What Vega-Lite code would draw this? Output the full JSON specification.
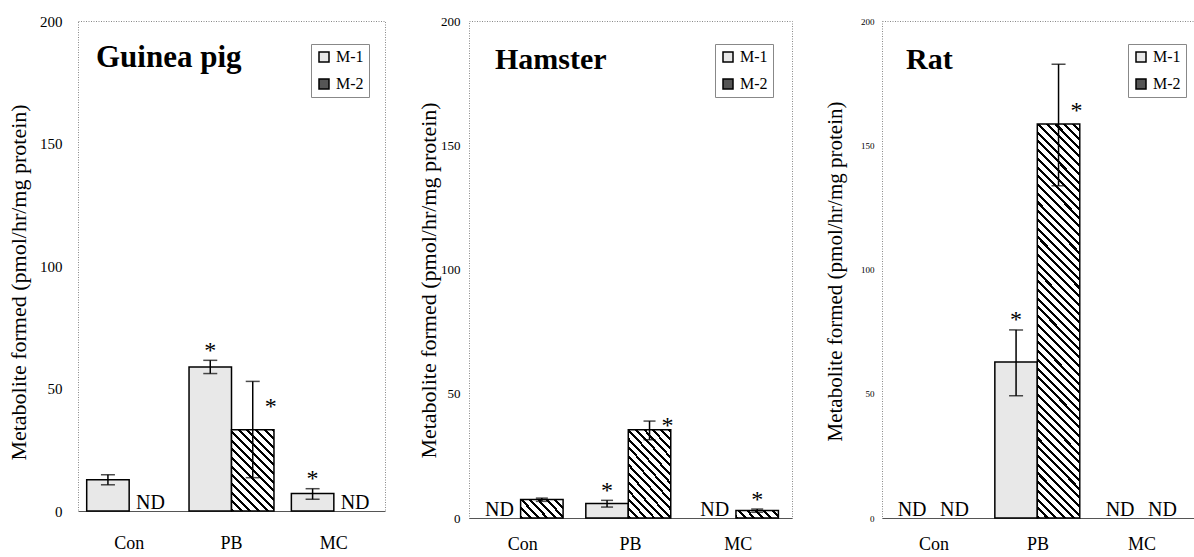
{
"$schema": "https://vega.github.io/schema/vega-lite/v6.json",
"background": "#ffffff",
"padding": {"left": 7, "top": 13, "right": 0, "bottom": 0},
"spacing": 31,
"datasets": {"d": [
{"species":"Guinea pig","treatment":"Con","metabolite":"M-1","value":12.8,"lo":10.7,"hi":14.8,"sig":"","nd":""},
{"species":"Guinea pig","treatment":"Con","metabolite":"M-2","value":null,"lo":null,"hi":null,"sig":"","nd":"ND"},
{"species":"Guinea pig","treatment":"PB","metabolite":"M-1","value":58.8,"lo":56.1,"hi":61.5,"sig":"*","nd":""},
{"species":"Guinea pig","treatment":"PB","metabolite":"M-2","value":33.2,"lo":13.6,"hi":52.9,"sig":"*","nd":""},
{"species":"Guinea pig","treatment":"MC","metabolite":"M-1","value":7.1,"lo":4.8,"hi":9.1,"sig":"*","nd":""},
{"species":"Guinea pig","treatment":"MC","metabolite":"M-2","value":null,"lo":null,"hi":null,"sig":"","nd":"ND"},
{"species":"Hamster","treatment":"Con","metabolite":"M-1","value":null,"lo":null,"hi":null,"sig":"","nd":"ND"},
{"species":"Hamster","treatment":"Con","metabolite":"M-2","value":7.4,"lo":6.7,"hi":8.0,"sig":"","nd":""},
{"species":"Hamster","treatment":"PB","metabolite":"M-1","value":5.8,"lo":4.4,"hi":7.1,"sig":"*","nd":""},
{"species":"Hamster","treatment":"PB","metabolite":"M-2","value":35.5,"lo":31.5,"hi":39.0,"sig":"*","nd":""},
{"species":"Hamster","treatment":"MC","metabolite":"M-1","value":null,"lo":null,"hi":null,"sig":"","nd":"ND"},
{"species":"Hamster","treatment":"MC","metabolite":"M-2","value":3.0,"lo":2.3,"hi":3.6,"sig":"*","nd":""},
{"species":"Rat","treatment":"Con","metabolite":"M-1","value":null,"lo":null,"hi":null,"sig":"","nd":"ND"},
{"species":"Rat","treatment":"Con","metabolite":"M-2","value":null,"lo":null,"hi":null,"sig":"","nd":"ND"},
{"species":"Rat","treatment":"PB","metabolite":"M-1","value":62.8,"lo":49.2,"hi":75.7,"sig":"*","nd":""},
{"species":"Rat","treatment":"PB","metabolite":"M-2","value":158.6,"lo":133.7,"hi":182.6,"sig":"*","nd":""},
{"species":"Rat","treatment":"MC","metabolite":"M-1","value":null,"lo":null,"hi":null,"sig":"","nd":"ND"},
{"species":"Rat","treatment":"MC","metabolite":"M-2","value":null,"lo":null,"hi":null,"sig":"","nd":"ND"}
]},
"data": {"name": "d"},
"resolve": {"scale": {"fill": "independent", "x": "independent", "y": "independent"}, "legend": {"fill": "independent"}},
"config": {"view": {"stroke": "#888888", "strokeDash": [1, 1.5], "strokeWidth": 1}, "font": "Liberation Serif"},
"hconcat": [
{
"width": 307, "height": 490,
"transform": [{"filter": "datum.species === 'Guinea pig'"}],
"title": {"text": "Guinea pig", "anchor": "start", "frame": "group", "orient": "top", "offset": -84, "dx": 18, "font": "Liberation Serif", "fontSize": 31, "fontWeight": "bold", "baseline": "alphabetic", "color": "#000000"},
"encoding": {
"x": {"field": "treatment", "type": "nominal", "title": null, "scale": {"domain": ["Con", "PB", "MC"], "paddingInner": 0.17, "paddingOuter": 0.085}, "axis": {"labelFont": "Liberation Serif", "labelFontSize": 18, "labelColor": "#000000", "labelAngle": 0, "ticks": false, "tickSize": 0, "labelPadding": 23, "domainColor": "#555555", "domainWidth": 1}},
"xOffset": {"field": "metabolite", "type": "nominal", "scale": {"domain": ["M-1", "M-2"], "paddingInner": 0, "paddingOuter": 0}}
},
"layer": [
{"mark": {"type": "bar", "stroke": "#000000", "strokeWidth": 1.5},
 "encoding": {
  "y": {"field": "value", "type": "quantitative", "title": "Metabolite formed (pmol/hr/mg protein)", "scale": {"domain": [0, 200]}, "axis": {"values": [0, 50, 100, 150, 200], "domain": false, "ticks": false, "tickSize": 0, "grid": false, "labelFont": "Liberation Serif", "labelFontSize": 15, "labelColor": "#000000", "labelPadding": 16, "titleFont": "Liberation Serif", "titleFontSize": 22, "titleFontWeight": "normal", "titleColor": "#000000", "titlePadding": 9, "titleY": 261}},
  "fill": {"field": "metabolite", "type": "nominal", "scale": {"domain": ["M-1", "M-2"], "range": ["#e8e8e8", "#555555"]},
   "condition": [{"test": "datum.treatment === 'PB' && datum.metabolite === 'M-2'", "value": {"gradient": "linear", "x1": 0, "y1": 1, "x2": 0.625, "y2": -0.196, "stops": [
{"offset":0,"color":"#000"},{"offset":0.025,"color":"#000"},{"offset":0.025,"color":"#fff"},{"offset":0.07,"color":"#fff"},
{"offset":0.07,"color":"#000"},{"offset":0.095,"color":"#000"},{"offset":0.095,"color":"#fff"},{"offset":0.14,"color":"#fff"},
{"offset":0.14,"color":"#000"},{"offset":0.165,"color":"#000"},{"offset":0.165,"color":"#fff"},{"offset":0.21,"color":"#fff"},
{"offset":0.21,"color":"#000"},{"offset":0.235,"color":"#000"},{"offset":0.235,"color":"#fff"},{"offset":0.28,"color":"#fff"},
{"offset":0.28,"color":"#000"},{"offset":0.305,"color":"#000"},{"offset":0.305,"color":"#fff"},{"offset":0.35,"color":"#fff"},
{"offset":0.35,"color":"#000"},{"offset":0.375,"color":"#000"},{"offset":0.375,"color":"#fff"},{"offset":0.42,"color":"#fff"},
{"offset":0.42,"color":"#000"},{"offset":0.445,"color":"#000"},{"offset":0.445,"color":"#fff"},{"offset":0.49,"color":"#fff"},
{"offset":0.49,"color":"#000"},{"offset":0.515,"color":"#000"},{"offset":0.515,"color":"#fff"},{"offset":0.56,"color":"#fff"},
{"offset":0.56,"color":"#000"},{"offset":0.585,"color":"#000"},{"offset":0.585,"color":"#fff"},{"offset":0.63,"color":"#fff"},
{"offset":0.63,"color":"#000"},{"offset":0.655,"color":"#000"},{"offset":0.655,"color":"#fff"},{"offset":0.7,"color":"#fff"},
{"offset":0.7,"color":"#000"},{"offset":0.725,"color":"#000"},{"offset":0.725,"color":"#fff"},{"offset":0.77,"color":"#fff"},
{"offset":0.77,"color":"#000"},{"offset":0.795,"color":"#000"},{"offset":0.795,"color":"#fff"},{"offset":0.84,"color":"#fff"},
{"offset":0.84,"color":"#000"},{"offset":0.865,"color":"#000"},{"offset":0.865,"color":"#fff"},{"offset":0.91,"color":"#fff"},
{"offset":0.91,"color":"#000"},{"offset":0.935,"color":"#000"},{"offset":0.935,"color":"#fff"},{"offset":0.98,"color":"#fff"},
{"offset":0.98,"color":"#000"},{"offset":1,"color":"#000"}
]}}],
   "legend": {"orient": "none", "legendX": 233, "legendY": 23, "title": null, "symbolType": "square", "symbolSize": 100, "labelFont": "Liberation Serif", "labelFontSize": 16, "labelColor": "#000000", "labelOffset": 4, "padding": 5, "rowPadding": 11, "strokeColor": "#888888",
    "encode": {"legend": {"strokeDash": {"value": [1, 2]}}, "symbols": {"stroke": {"value": "#000000"}, "strokeWidth": {"value": 1.5}, "fill": {"condition": {"test": "datum.value === 'M-2'", "value": {"gradient": "linear", "x1": 0, "y1": 1, "x2": 1, "y2": 0, "stops": [{"offset":0,"color":"#000"},{"offset":0.15,"color":"#000"},{"offset":0.15,"color":"#fff"},{"offset":0.42,"color":"#fff"},{"offset":0.42,"color":"#000"},{"offset":0.58,"color":"#000"},{"offset":0.58,"color":"#fff"},{"offset":0.85,"color":"#fff"},{"offset":0.85,"color":"#000"},{"offset":1,"color":"#000"}]}}, "value": "#f0f0f0"}}}}
  }
 }},
{"mark": {"type": "rule", "color": "#000000", "strokeWidth": 1.5},
 "encoding": {"y": {"field": "lo", "type": "quantitative", "title": "Metabolite formed (pmol/hr/mg protein)", "scale": {"domain": [0, 200]}}, "y2": {"field": "hi"}}},
{"mark": {"type": "tick", "color": "#000000", "thickness": 1.5, "size": 14},
 "encoding": {"y": {"field": "lo", "type": "quantitative", "title": "Metabolite formed (pmol/hr/mg protein)", "scale": {"domain": [0, 200]}}}},
{"mark": {"type": "tick", "color": "#000000", "thickness": 1.5, "size": 14},
 "encoding": {"y": {"field": "hi", "type": "quantitative", "title": "Metabolite formed (pmol/hr/mg protein)", "scale": {"domain": [0, 200]}}}},
{"transform": [{"filter": "datum.sig === '*' && !(datum.treatment === 'PB' && datum.metabolite === 'M-2')"}],
 "mark": {"type": "text", "font": "Liberation Serif", "fontSize": 24, "baseline": "alphabetic", "dy": -2.5, "color": "#000000"},
 "encoding": {"y": {"field": "hi", "type": "quantitative", "title": "Metabolite formed (pmol/hr/mg protein)", "scale": {"domain": [0, 200]}}, "text": {"field": "sig"}}},
{"transform": [{"filter": "datum.sig === '*' && datum.treatment === 'PB' && datum.metabolite === 'M-2'"}],
 "mark": {"type": "text", "font": "Liberation Serif", "fontSize": 24, "baseline": "alphabetic", "dx": 18, "dy": -16, "color": "#000000"},
 "encoding": {"y": {"field": "value", "type": "quantitative", "title": "Metabolite formed (pmol/hr/mg protein)", "scale": {"domain": [0, 200]}}, "text": {"field": "sig"}}},
{"transform": [{"filter": "datum.nd === 'ND'"}],
 "mark": {"type": "text", "font": "Liberation Serif", "fontSize": 20, "baseline": "alphabetic", "dy": -2, "color": "#000000"},
 "encoding": {"y": {"datum": 0, "type": "quantitative", "title": "Metabolite formed (pmol/hr/mg protein)", "scale": {"domain": [0, 200]}}, "text": {"field": "nd"}}}
]
},
{
"width": 323, "height": 497,
"transform": [{"filter": "datum.species === 'Hamster'"}],
"title": {"text": "Hamster", "anchor": "start", "frame": "group", "orient": "top", "offset": -84, "dx": 26, "font": "Liberation Serif", "fontSize": 30, "fontWeight": "bold", "baseline": "alphabetic", "color": "#000000"},
"encoding": {
"x": {"field": "treatment", "type": "nominal", "title": null, "scale": {"domain": ["Con", "PB", "MC"], "paddingInner": 0.17, "paddingOuter": 0.085}, "axis": {"labelFont": "Liberation Serif", "labelFontSize": 18, "labelColor": "#000000", "labelAngle": 0, "ticks": false, "tickSize": 0, "labelPadding": 17, "domainColor": "#555555", "domainWidth": 1}},
"xOffset": {"field": "metabolite", "type": "nominal", "scale": {"domain": ["M-1", "M-2"], "paddingInner": 0, "paddingOuter": 0}}
},
"layer": [
{"mark": {"type": "bar", "stroke": "#000000", "strokeWidth": 1.5},
 "encoding": {
  "y": {"field": "value", "type": "quantitative", "title": "Metabolite formed (pmol/hr/mg protein)", "scale": {"domain": [0, 200]}, "axis": {"values": [0, 50, 100, 150, 200], "domain": false, "ticks": false, "tickSize": 0, "grid": false, "labelFont": "Liberation Serif", "labelFontSize": 13, "labelColor": "#000000", "labelPadding": 9, "titleFont": "Liberation Serif", "titleFontSize": 22, "titleFontWeight": "normal", "titleColor": "#000000", "titlePadding": 0, "titleY": 259}},
  "fill": {"field": "metabolite", "type": "nominal", "scale": {"domain": ["M-1", "M-2"], "range": ["#e8e8e8", "#555555"]},
   "condition": [
{"test": "datum.treatment === 'Con' && datum.metabolite === 'M-2'", "value": {"gradient": "linear", "x1": 0, "y1": 1, "x2": 1.207, "y2": 0.503, "stops": [
{"offset":0,"color":"#000"},{"offset":0.05,"color":"#000"},{"offset":0.05,"color":"#fff"},{"offset":0.14,"color":"#fff"},
{"offset":0.14,"color":"#000"},{"offset":0.19,"color":"#000"},{"offset":0.19,"color":"#fff"},{"offset":0.28,"color":"#fff"},
{"offset":0.28,"color":"#000"},{"offset":0.33,"color":"#000"},{"offset":0.33,"color":"#fff"},{"offset":0.42,"color":"#fff"},
{"offset":0.42,"color":"#000"},{"offset":0.47,"color":"#000"},{"offset":0.47,"color":"#fff"},{"offset":0.56,"color":"#fff"},
{"offset":0.56,"color":"#000"},{"offset":0.61,"color":"#000"},{"offset":0.61,"color":"#fff"},{"offset":0.7,"color":"#fff"},
{"offset":0.7,"color":"#000"},{"offset":0.75,"color":"#000"},{"offset":0.75,"color":"#fff"},{"offset":0.84,"color":"#fff"},
{"offset":0.84,"color":"#000"},{"offset":0.89,"color":"#000"},{"offset":0.89,"color":"#fff"},{"offset":0.98,"color":"#fff"},
{"offset":0.98,"color":"#000"},{"offset":1,"color":"#000"}
]}},
{"test": "datum.treatment === 'PB' && datum.metabolite === 'M-2'", "value": {"gradient": "linear", "x1": 0, "y1": 1, "x2": 0.607, "y2": -0.199, "stops": [
{"offset":0,"color":"#000"},{"offset":0.023,"color":"#000"},{"offset":0.023,"color":"#fff"},{"offset":0.065,"color":"#fff"},
{"offset":0.065,"color":"#000"},{"offset":0.088,"color":"#000"},{"offset":0.088,"color":"#fff"},{"offset":0.13,"color":"#fff"},
{"offset":0.13,"color":"#000"},{"offset":0.153,"color":"#000"},{"offset":0.153,"color":"#fff"},{"offset":0.195,"color":"#fff"},
{"offset":0.195,"color":"#000"},{"offset":0.218,"color":"#000"},{"offset":0.218,"color":"#fff"},{"offset":0.26,"color":"#fff"},
{"offset":0.26,"color":"#000"},{"offset":0.283,"color":"#000"},{"offset":0.283,"color":"#fff"},{"offset":0.325,"color":"#fff"},
{"offset":0.325,"color":"#000"},{"offset":0.348,"color":"#000"},{"offset":0.348,"color":"#fff"},{"offset":0.39,"color":"#fff"},
{"offset":0.39,"color":"#000"},{"offset":0.413,"color":"#000"},{"offset":0.413,"color":"#fff"},{"offset":0.455,"color":"#fff"},
{"offset":0.455,"color":"#000"},{"offset":0.478,"color":"#000"},{"offset":0.478,"color":"#fff"},{"offset":0.52,"color":"#fff"},
{"offset":0.52,"color":"#000"},{"offset":0.543,"color":"#000"},{"offset":0.543,"color":"#fff"},{"offset":0.585,"color":"#fff"},
{"offset":0.585,"color":"#000"},{"offset":0.608,"color":"#000"},{"offset":0.608,"color":"#fff"},{"offset":0.65,"color":"#fff"},
{"offset":0.65,"color":"#000"},{"offset":0.673,"color":"#000"},{"offset":0.673,"color":"#fff"},{"offset":0.715,"color":"#fff"},
{"offset":0.715,"color":"#000"},{"offset":0.738,"color":"#000"},{"offset":0.738,"color":"#fff"},{"offset":0.78,"color":"#fff"},
{"offset":0.78,"color":"#000"},{"offset":0.803,"color":"#000"},{"offset":0.803,"color":"#fff"},{"offset":0.845,"color":"#fff"},
{"offset":0.845,"color":"#000"},{"offset":0.868,"color":"#000"},{"offset":0.868,"color":"#fff"},{"offset":0.91,"color":"#fff"},
{"offset":0.91,"color":"#000"},{"offset":0.933,"color":"#000"},{"offset":0.933,"color":"#fff"},{"offset":0.975,"color":"#fff"},
{"offset":0.975,"color":"#000"},{"offset":0.998,"color":"#000"},{"offset":0.998,"color":"#fff"},{"offset":1,"color":"#fff"}
]}},
{"test": "datum.treatment === 'MC' && datum.metabolite === 'M-2'", "value": {"gradient": "linear", "x1": 0, "y1": 1, "x2": 1.135, "y2": 0.81, "stops": [
{"offset":0,"color":"#000"},{"offset":0.06,"color":"#000"},{"offset":0.06,"color":"#fff"},{"offset":0.17,"color":"#fff"},
{"offset":0.17,"color":"#000"},{"offset":0.23,"color":"#000"},{"offset":0.23,"color":"#fff"},{"offset":0.34,"color":"#fff"},
{"offset":0.34,"color":"#000"},{"offset":0.4,"color":"#000"},{"offset":0.4,"color":"#fff"},{"offset":0.51,"color":"#fff"},
{"offset":0.51,"color":"#000"},{"offset":0.57,"color":"#000"},{"offset":0.57,"color":"#fff"},{"offset":0.68,"color":"#fff"},
{"offset":0.68,"color":"#000"},{"offset":0.74,"color":"#000"},{"offset":0.74,"color":"#fff"},{"offset":0.85,"color":"#fff"},
{"offset":0.85,"color":"#000"},{"offset":0.91,"color":"#000"},{"offset":0.91,"color":"#fff"},{"offset":1,"color":"#fff"}
]}}
],
   "legend": {"orient": "none", "legendX": 246, "legendY": 23, "title": null, "symbolType": "square", "symbolSize": 100, "labelFont": "Liberation Serif", "labelFontSize": 16, "labelColor": "#000000", "labelOffset": 4, "padding": 5, "rowPadding": 11, "strokeColor": "#888888",
    "encode": {"legend": {"strokeDash": {"value": [1, 2]}}, "symbols": {"stroke": {"value": "#000000"}, "strokeWidth": {"value": 1.5}, "fill": {"condition": {"test": "datum.value === 'M-2'", "value": {"gradient": "linear", "x1": 0, "y1": 1, "x2": 1, "y2": 0, "stops": [{"offset":0,"color":"#000"},{"offset":0.15,"color":"#000"},{"offset":0.15,"color":"#fff"},{"offset":0.42,"color":"#fff"},{"offset":0.42,"color":"#000"},{"offset":0.58,"color":"#000"},{"offset":0.58,"color":"#fff"},{"offset":0.85,"color":"#fff"},{"offset":0.85,"color":"#000"},{"offset":1,"color":"#000"}]}}, "value": "#f0f0f0"}}}}
  }
 }},
{"mark": {"type": "rule", "color": "#000000", "strokeWidth": 1.5},
 "encoding": {"y": {"field": "lo", "type": "quantitative", "title": "Metabolite formed (pmol/hr/mg protein)", "scale": {"domain": [0, 200]}}, "y2": {"field": "hi"}}},
{"mark": {"type": "tick", "color": "#000000", "thickness": 1.5, "size": 12},
 "encoding": {"y": {"field": "lo", "type": "quantitative", "title": "Metabolite formed (pmol/hr/mg protein)", "scale": {"domain": [0, 200]}}}},
{"mark": {"type": "tick", "color": "#000000", "thickness": 1.5, "size": 12},
 "encoding": {"y": {"field": "hi", "type": "quantitative", "title": "Metabolite formed (pmol/hr/mg protein)", "scale": {"domain": [0, 200]}}}},
{"transform": [{"filter": "datum.sig === '*' && !(datum.treatment === 'PB' && datum.metabolite === 'M-2')"}],
 "mark": {"type": "text", "font": "Liberation Serif", "fontSize": 24, "baseline": "alphabetic", "dy": -2.5, "color": "#000000"},
 "encoding": {"y": {"field": "hi", "type": "quantitative", "title": "Metabolite formed (pmol/hr/mg protein)", "scale": {"domain": [0, 200]}}, "text": {"field": "sig"}}},
{"transform": [{"filter": "datum.sig === '*' && datum.treatment === 'PB' && datum.metabolite === 'M-2'"}],
 "mark": {"type": "text", "font": "Liberation Serif", "fontSize": 24, "baseline": "alphabetic", "dx": 18, "dy": 3, "color": "#000000"},
 "encoding": {"y": {"field": "value", "type": "quantitative", "title": "Metabolite formed (pmol/hr/mg protein)", "scale": {"domain": [0, 200]}}, "text": {"field": "sig"}}},
{"transform": [{"filter": "datum.nd === 'ND'"}],
 "mark": {"type": "text", "font": "Liberation Serif", "fontSize": 20, "baseline": "alphabetic", "dy": -2, "color": "#000000"},
 "encoding": {"y": {"datum": 0, "type": "quantitative", "title": "Metabolite formed (pmol/hr/mg protein)", "scale": {"domain": [0, 200]}}, "text": {"field": "nd"}}}
]
},
{
"width": 312, "height": 497,
"transform": [{"filter": "datum.species === 'Rat'"}],
"title": {"text": "Rat", "anchor": "start", "frame": "group", "orient": "top", "offset": -82, "dx": 24, "font": "Liberation Serif", "fontSize": 30, "fontWeight": "bold", "baseline": "alphabetic", "color": "#000000"},
"encoding": {
"x": {"field": "treatment", "type": "nominal", "title": null, "scale": {"domain": ["Con", "PB", "MC"], "paddingInner": 0.17, "paddingOuter": 0.085}, "axis": {"labelFont": "Liberation Serif", "labelFontSize": 18, "labelColor": "#000000", "labelAngle": 0, "ticks": false, "tickSize": 0, "labelPadding": 17, "domainColor": "#555555", "domainWidth": 1}},
"xOffset": {"field": "metabolite", "type": "nominal", "scale": {"domain": ["M-1", "M-2"], "paddingInner": 0, "paddingOuter": 0}}
},
"layer": [
{"mark": {"type": "bar", "stroke": "#000000", "strokeWidth": 1.5},
 "encoding": {
  "y": {"field": "value", "type": "quantitative", "title": "Metabolite formed (pmol/hr/mg protein)", "scale": {"domain": [0, 200]}, "axis": {"values": [0, 50, 100, 150, 200], "domain": false, "ticks": false, "tickSize": 0, "grid": false, "labelFont": "Liberation Serif", "labelFontSize": 9, "labelColor": "#000000", "labelPadding": 8, "titleFont": "Liberation Serif", "titleFontSize": 21, "titleFontWeight": "normal", "titleColor": "#000000", "titlePadding": 15, "titleY": 250}},
  "fill": {"field": "metabolite", "type": "nominal", "scale": {"domain": ["M-1", "M-2"], "range": ["#e8e8e8", "#555555"]},
   "condition": [{"test": "datum.treatment === 'PB' && datum.metabolite === 'M-2'", "value": {"gradient": "linear", "x1": 0, "y1": 1, "x2": 0.119, "y2": -0.096, "stops": [
{"offset":0,"color":"#000"},{"offset":0.007,"color":"#000"},{"offset":0.007,"color":"#fff"},{"offset":0.02,"color":"#fff"},
{"offset":0.02,"color":"#000"},{"offset":0.027,"color":"#000"},{"offset":0.027,"color":"#fff"},{"offset":0.04,"color":"#fff"},
{"offset":0.04,"color":"#000"},{"offset":0.047,"color":"#000"},{"offset":0.047,"color":"#fff"},{"offset":0.06,"color":"#fff"},
{"offset":0.06,"color":"#000"},{"offset":0.067,"color":"#000"},{"offset":0.067,"color":"#fff"},{"offset":0.08,"color":"#fff"},
{"offset":0.08,"color":"#000"},{"offset":0.087,"color":"#000"},{"offset":0.087,"color":"#fff"},{"offset":0.1,"color":"#fff"},
{"offset":0.1,"color":"#000"},{"offset":0.107,"color":"#000"},{"offset":0.107,"color":"#fff"},{"offset":0.12,"color":"#fff"},
{"offset":0.12,"color":"#000"},{"offset":0.127,"color":"#000"},{"offset":0.127,"color":"#fff"},{"offset":0.14,"color":"#fff"},
{"offset":0.14,"color":"#000"},{"offset":0.147,"color":"#000"},{"offset":0.147,"color":"#fff"},{"offset":0.16,"color":"#fff"},
{"offset":0.16,"color":"#000"},{"offset":0.167,"color":"#000"},{"offset":0.167,"color":"#fff"},{"offset":0.18,"color":"#fff"},
{"offset":0.18,"color":"#000"},{"offset":0.187,"color":"#000"},{"offset":0.187,"color":"#fff"},{"offset":0.2,"color":"#fff"},
{"offset":0.2,"color":"#000"},{"offset":0.207,"color":"#000"},{"offset":0.207,"color":"#fff"},{"offset":0.22,"color":"#fff"},
{"offset":0.22,"color":"#000"},{"offset":0.227,"color":"#000"},{"offset":0.227,"color":"#fff"},{"offset":0.24,"color":"#fff"},
{"offset":0.24,"color":"#000"},{"offset":0.247,"color":"#000"},{"offset":0.247,"color":"#fff"},{"offset":0.26,"color":"#fff"},
{"offset":0.26,"color":"#000"},{"offset":0.267,"color":"#000"},{"offset":0.267,"color":"#fff"},{"offset":0.28,"color":"#fff"},
{"offset":0.28,"color":"#000"},{"offset":0.287,"color":"#000"},{"offset":0.287,"color":"#fff"},{"offset":0.3,"color":"#fff"},
{"offset":0.3,"color":"#000"},{"offset":0.307,"color":"#000"},{"offset":0.307,"color":"#fff"},{"offset":0.32,"color":"#fff"},
{"offset":0.32,"color":"#000"},{"offset":0.327,"color":"#000"},{"offset":0.327,"color":"#fff"},{"offset":0.34,"color":"#fff"},
{"offset":0.34,"color":"#000"},{"offset":0.347,"color":"#000"},{"offset":0.347,"color":"#fff"},{"offset":0.36,"color":"#fff"},
{"offset":0.36,"color":"#000"},{"offset":0.367,"color":"#000"},{"offset":0.367,"color":"#fff"},{"offset":0.38,"color":"#fff"},
{"offset":0.38,"color":"#000"},{"offset":0.387,"color":"#000"},{"offset":0.387,"color":"#fff"},{"offset":0.4,"color":"#fff"},
{"offset":0.4,"color":"#000"},{"offset":0.407,"color":"#000"},{"offset":0.407,"color":"#fff"},{"offset":0.42,"color":"#fff"},
{"offset":0.42,"color":"#000"},{"offset":0.427,"color":"#000"},{"offset":0.427,"color":"#fff"},{"offset":0.44,"color":"#fff"},
{"offset":0.44,"color":"#000"},{"offset":0.447,"color":"#000"},{"offset":0.447,"color":"#fff"},{"offset":0.46,"color":"#fff"},
{"offset":0.46,"color":"#000"},{"offset":0.467,"color":"#000"},{"offset":0.467,"color":"#fff"},{"offset":0.48,"color":"#fff"},
{"offset":0.48,"color":"#000"},{"offset":0.487,"color":"#000"},{"offset":0.487,"color":"#fff"},{"offset":0.5,"color":"#fff"},
{"offset":0.5,"color":"#000"},{"offset":0.507,"color":"#000"},{"offset":0.507,"color":"#fff"},{"offset":0.52,"color":"#fff"},
{"offset":0.52,"color":"#000"},{"offset":0.527,"color":"#000"},{"offset":0.527,"color":"#fff"},{"offset":0.54,"color":"#fff"},
{"offset":0.54,"color":"#000"},{"offset":0.547,"color":"#000"},{"offset":0.547,"color":"#fff"},{"offset":0.56,"color":"#fff"},
{"offset":0.56,"color":"#000"},{"offset":0.567,"color":"#000"},{"offset":0.567,"color":"#fff"},{"offset":0.58,"color":"#fff"},
{"offset":0.58,"color":"#000"},{"offset":0.587,"color":"#000"},{"offset":0.587,"color":"#fff"},{"offset":0.6,"color":"#fff"},
{"offset":0.6,"color":"#000"},{"offset":0.607,"color":"#000"},{"offset":0.607,"color":"#fff"},{"offset":0.62,"color":"#fff"},
{"offset":0.62,"color":"#000"},{"offset":0.627,"color":"#000"},{"offset":0.627,"color":"#fff"},{"offset":0.64,"color":"#fff"},
{"offset":0.64,"color":"#000"},{"offset":0.647,"color":"#000"},{"offset":0.647,"color":"#fff"},{"offset":0.66,"color":"#fff"},
{"offset":0.66,"color":"#000"},{"offset":0.667,"color":"#000"},{"offset":0.667,"color":"#fff"},{"offset":0.68,"color":"#fff"},
{"offset":0.68,"color":"#000"},{"offset":0.687,"color":"#000"},{"offset":0.687,"color":"#fff"},{"offset":0.7,"color":"#fff"},
{"offset":0.7,"color":"#000"},{"offset":0.707,"color":"#000"},{"offset":0.707,"color":"#fff"},{"offset":0.72,"color":"#fff"},
{"offset":0.72,"color":"#000"},{"offset":0.727,"color":"#000"},{"offset":0.727,"color":"#fff"},{"offset":0.74,"color":"#fff"},
{"offset":0.74,"color":"#000"},{"offset":0.747,"color":"#000"},{"offset":0.747,"color":"#fff"},{"offset":0.76,"color":"#fff"},
{"offset":0.76,"color":"#000"},{"offset":0.767,"color":"#000"},{"offset":0.767,"color":"#fff"},{"offset":0.78,"color":"#fff"},
{"offset":0.78,"color":"#000"},{"offset":0.787,"color":"#000"},{"offset":0.787,"color":"#fff"},{"offset":0.8,"color":"#fff"},
{"offset":0.8,"color":"#000"},{"offset":0.807,"color":"#000"},{"offset":0.807,"color":"#fff"},{"offset":0.82,"color":"#fff"},
{"offset":0.82,"color":"#000"},{"offset":0.827,"color":"#000"},{"offset":0.827,"color":"#fff"},{"offset":0.84,"color":"#fff"},
{"offset":0.84,"color":"#000"},{"offset":0.847,"color":"#000"},{"offset":0.847,"color":"#fff"},{"offset":0.86,"color":"#fff"},
{"offset":0.86,"color":"#000"},{"offset":0.867,"color":"#000"},{"offset":0.867,"color":"#fff"},{"offset":0.88,"color":"#fff"},
{"offset":0.88,"color":"#000"},{"offset":0.887,"color":"#000"},{"offset":0.887,"color":"#fff"},{"offset":0.9,"color":"#fff"},
{"offset":0.9,"color":"#000"},{"offset":0.907,"color":"#000"},{"offset":0.907,"color":"#fff"},{"offset":0.92,"color":"#fff"},
{"offset":0.92,"color":"#000"},{"offset":0.927,"color":"#000"},{"offset":0.927,"color":"#fff"},{"offset":0.94,"color":"#fff"},
{"offset":0.94,"color":"#000"},{"offset":0.947,"color":"#000"},{"offset":0.947,"color":"#fff"},{"offset":0.96,"color":"#fff"},
{"offset":0.96,"color":"#000"},{"offset":0.967,"color":"#000"},{"offset":0.967,"color":"#fff"},{"offset":0.98,"color":"#fff"},
{"offset":0.98,"color":"#000"},{"offset":0.987,"color":"#000"},{"offset":0.987,"color":"#fff"},{"offset":1,"color":"#fff"}
]}}],
   "legend": {"orient": "none", "legendX": 246, "legendY": 23, "title": null, "symbolType": "square", "symbolSize": 100, "labelFont": "Liberation Serif", "labelFontSize": 16, "labelColor": "#000000", "labelOffset": 4, "padding": 5, "rowPadding": 11, "strokeColor": "#888888",
    "encode": {"legend": {"strokeDash": {"value": [1, 2]}}, "symbols": {"stroke": {"value": "#000000"}, "strokeWidth": {"value": 1.5}, "fill": {"condition": {"test": "datum.value === 'M-2'", "value": {"gradient": "linear", "x1": 0, "y1": 1, "x2": 1, "y2": 0, "stops": [{"offset":0,"color":"#000"},{"offset":0.15,"color":"#000"},{"offset":0.15,"color":"#fff"},{"offset":0.42,"color":"#fff"},{"offset":0.42,"color":"#000"},{"offset":0.58,"color":"#000"},{"offset":0.58,"color":"#fff"},{"offset":0.85,"color":"#fff"},{"offset":0.85,"color":"#000"},{"offset":1,"color":"#000"}]}}, "value": "#f0f0f0"}}}}
  }
 }},
{"mark": {"type": "rule", "color": "#000000", "strokeWidth": 1.5},
 "encoding": {"y": {"field": "lo", "type": "quantitative", "title": "Metabolite formed (pmol/hr/mg protein)", "scale": {"domain": [0, 200]}}, "y2": {"field": "hi"}}},
{"mark": {"type": "tick", "color": "#000000", "thickness": 1.5, "size": 14},
 "encoding": {"y": {"field": "lo", "type": "quantitative", "title": "Metabolite formed (pmol/hr/mg protein)", "scale": {"domain": [0, 200]}}}},
{"mark": {"type": "tick", "color": "#000000", "thickness": 1.5, "size": 14},
 "encoding": {"y": {"field": "hi", "type": "quantitative", "title": "Metabolite formed (pmol/hr/mg protein)", "scale": {"domain": [0, 200]}}}},
{"transform": [{"filter": "datum.sig === '*' && !(datum.treatment === 'PB' && datum.metabolite === 'M-2')"}],
 "mark": {"type": "text", "font": "Liberation Serif", "fontSize": 24, "baseline": "alphabetic", "dy": -2.5, "color": "#000000"},
 "encoding": {"y": {"field": "hi", "type": "quantitative", "title": "Metabolite formed (pmol/hr/mg protein)", "scale": {"domain": [0, 200]}}, "text": {"field": "sig"}}},
{"transform": [{"filter": "datum.sig === '*' && datum.treatment === 'PB' && datum.metabolite === 'M-2'"}],
 "mark": {"type": "text", "font": "Liberation Serif", "fontSize": 24, "baseline": "alphabetic", "dx": 18, "dy": -5.5, "color": "#000000"},
 "encoding": {"y": {"field": "value", "type": "quantitative", "title": "Metabolite formed (pmol/hr/mg protein)", "scale": {"domain": [0, 200]}}, "text": {"field": "sig"}}},
{"transform": [{"filter": "datum.nd === 'ND'"}],
 "mark": {"type": "text", "font": "Liberation Serif", "fontSize": 20, "baseline": "alphabetic", "dy": -2, "color": "#000000"},
 "encoding": {"y": {"datum": 0, "type": "quantitative", "title": "Metabolite formed (pmol/hr/mg protein)", "scale": {"domain": [0, 200]}}, "text": {"field": "nd"}}}
]
}
]
}
